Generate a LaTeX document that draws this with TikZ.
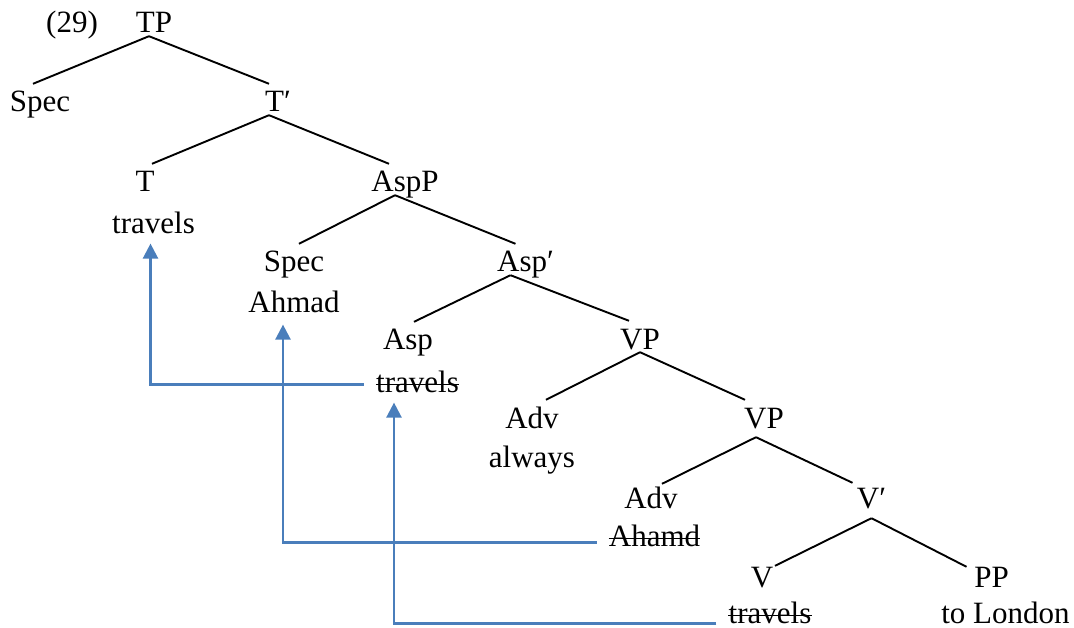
\documentclass[tikz,border=0pt]{standalone}
\usepackage{fontspec}
\setmainfont{Liberation Serif}
\usetikzlibrary{arrows.meta,positioning}
\definecolor{moveblue}{RGB}{74,126,187}
\tikzset{
	cat/.style={
		inner sep=0pt,
		text height=28pt,
		text depth=3pt,
		anchor=base,
	},
	word/.style={
		inner sep=0pt,
		text height=21pt,
		text depth=0pt,
	},
	branch/.style={
		draw=black, line width=1.9pt,
	},
	strike/.style={
		draw=black, line width=1.6pt,
	},
	move/.style={
		draw=moveblue, line width=2.4pt,
		-{Triangle[length=15pt,width=15pt]},
		shorten <=12pt,
	},
}

\begin{document}
\begin{tikzpicture}[x=1pt,y=-1pt,font=\fontsize{31}{40}\selectfont]
	\useasboundingbox (0,0) rectangle (1074,628);

	% example number
	\node[cat] (EX) at (72,33) {(29)};

	% category labels of the tree
	\node[cat] (TP)      at (154,33)    {TP};
	\node[cat] (SpecTP)  at (40,112)    {Spec};
	\node[cat] (Tbar)    at (278,112)   {T′};
	\node[cat] (T)       at (145,192)   {T};
	\node[cat] (AspP)    at (405,192)   {AspP};
	\node[cat] (SpecAsp) at (294,272)   {Spec};
	\node[cat] (Aspbar)  at (525.5,272) {Asp′};
	\node[cat] (Asp)     at (408,350)   {Asp};
	\node[cat] (VPa)     at (640,349)   {VP};
	\node[cat] (AdvA)    at (532,428)   {Adv};
	\node[cat] (VPb)     at (764,428)   {VP};
	\node[cat] (AdvB)    at (651,508)   {Adv};
	\node[cat] (Vbar)    at (871.5,508) {V′};
	\node[cat] (V)       at (762,587)   {V};
	\node[cat] (PP)      at (991.5,587) {PP};

	% words under their labels
	\node[word, below=17pt of T, xshift=8.5pt]    (travelsT)   {travels};
	\node[word, below=16pt of SpecAsp]            (AhmadSpec)  {Ahmad};
	\node[word, below=18pt of Asp, xshift=9.5pt]  (travelsAsp) {travels};
	\node[word, below=15pt of AdvA]               (always)     {always};
	\node[word, below=14pt of AdvB, xshift=3.5pt] (AhamdAdv)   {Ahamd};
	\node[word, below=12pt of V, xshift=8pt]      (travelsV)   {travels};
	\node[word, below=12pt of PP, xshift=14pt]    (toLondon)   {to London};

	% struck-out copies
	\draw[strike] ([yshift=8pt]travelsAsp.base west) -- ([yshift=8pt]travelsAsp.base east);
	\draw[strike] ([yshift=8pt]AhamdAdv.base west)   -- ([yshift=8pt]AhamdAdv.base east);
	\draw[strike] ([yshift=8pt]travelsV.base west)   -- ([yshift=8pt]travelsV.base east);

	% branches
	\path[branch]
	([xshift=-5pt]TP.south)    edge ([xshift=-7pt]SpecTP.north)
	([xshift=-5pt]TP.south)    edge ([xshift=-9pt]Tbar.north)
	([xshift=-9pt]Tbar.south)  edge ([xshift=7pt]T.north)
	([xshift=-9pt]Tbar.south)  edge ([xshift=-16pt]AspP.north)
	([xshift=-10pt]AspP.south) edge ([xshift=5pt]SpecAsp.north)
	([xshift=-10pt]AspP.south) edge ([xshift=-10pt]Aspbar.north)
	([xshift=-15pt]Aspbar.south) edge ([xshift=6pt]Asp.north)
	([xshift=-15pt]Aspbar.south) edge ([xshift=-11pt]VPa.north)
	(VPa.south) edge ([xshift=14pt]AdvA.north)
	(VPa.south) edge ([xshift=-19pt]VPb.north)
	([xshift=-8pt,yshift=-6pt]VPb.south) edge ([xshift=11pt,yshift=-4pt]AdvB.north)
	([xshift=-8pt,yshift=-6pt]VPb.south) edge ([xshift=-19pt,yshift=-3pt]Vbar.north)
	([yshift=-7pt]Vbar.south) edge ([xshift=13pt,yshift=-7pt]V.north)
	([yshift=-7pt]Vbar.south) edge ([xshift=-25pt,yshift=-8pt]PP.north)
	; % END PATH

	% movement arrows
	\draw[move, shorten >=10pt] ([yshift=8pt]travelsAsp.base west) -| ([xshift=-3pt]travelsT.south);
	\draw[move, shorten >=12pt] ([yshift=4pt]AhamdAdv.base west) -| ([xshift=-11pt]AhmadSpec.south);
	\draw[move, shorten >=10pt] (travelsV.base west) -| ([xshift=-23.5pt]travelsAsp.south);

\end{tikzpicture}
\end{document}
